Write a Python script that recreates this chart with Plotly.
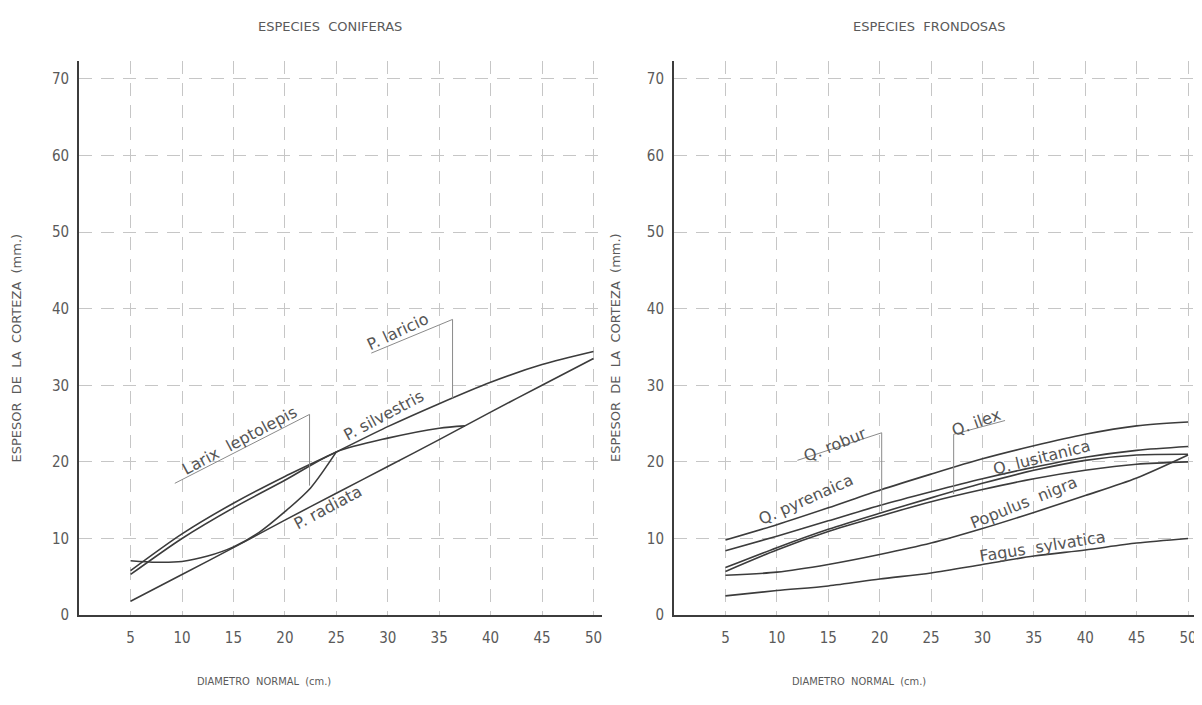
import plotly.graph_objects as go

# ---------------- data ----------------
diam = [5, 10, 15, 20, 25, 30, 35, 40, 45, 50]

# Coniferas
laricio = [5.8, 10.6, 14.6, 18.1, 21.3, 24.6, 27.6, 30.4, 32.7, 34.4]
silvestris_x = [5, 10, 15, 20, 25, 30, 35, 37.5]
silvestris = [5.3, 10.0, 14.0, 17.6, 21.3, 23.1, 24.4, 24.7]
larix_x = [5, 7.5, 10, 12.5, 15, 17.5, 20, 22.5, 25]
larix = [7.1, 6.9, 7.0, 7.7, 8.9, 10.8, 13.5, 16.6, 21.3]
radiata = [1.8, 5.3, 8.8, 12.4, 15.9, 19.4, 22.9, 26.5, 30.0, 33.5]

# Frondosas
q_ilex = [9.8, 11.8, 14.0, 16.3, 18.4, 20.4, 22.1, 23.6, 24.7, 25.2]
q_pyrenaica = [8.4, 10.3, 12.3, 14.3, 16.1, 17.8, 19.3, 20.6, 21.5, 22.0]
q_robur = [6.2, 8.8, 11.2, 13.3, 15.3, 17.2, 18.9, 20.2, 20.9, 21.0]
q_lusitanica = [5.7, 8.5, 10.9, 12.9, 14.8, 16.4, 17.8, 18.9, 19.7, 20.0]
populus = [5.2, 5.6, 6.6, 7.9, 9.4, 11.3, 13.4, 15.6, 17.9, 20.9]
fagus = [2.5, 3.2, 3.8, 4.7, 5.5, 6.6, 7.7, 8.5, 9.4, 10.0]

x_ticks = [5, 10, 15, 20, 25, 30, 35, 40, 45, 50]
y_ticks = [0, 10, 20, 30, 40, 50, 60, 70]

titles = ["ESPECIES  CONIFERAS", "ESPECIES  FRONDOSAS"]
y_title = "ESPESOR  DE  LA  CORTEZA  (mm.)"
x_title = "DIAMETRO  NORMAL  (cm.)"

# curve labels: text, x, y, angle
left_labels = [
    ("P. laricio", 31.0, 37.0, -25),
    ("Larix  leptolepis", 15.6, 22.8, -28),
    ("P. silvestris", 29.6, 26.0, -28),
    ("P. radiata", 24.2, 14.0, -28),
]
right_labels = [
    ("Q. robur", 15.7, 22.3, -22),
    ("Q. ilex", 29.4, 25.1, -20),
    ("Q. pyrenaica", 12.8, 15.1, -24),
    ("Q. lusitanica", 35.7, 20.6, -14),
    ("Populus  nigra", 34.0, 14.7, -22),
    ("Fagus  sylvatica", 35.8, 8.9, -9),
]
# leader lines (x0, y0, x1, y1) per panel
left_leaders = [
    (28.4, 34.2, 36.3, 38.6), (36.3, 38.6, 36.3, 28.3),
    (9.3, 17.2, 22.4, 26.2), (22.4, 26.2, 22.4, 16.9),
]
right_leaders = [
    (12.0, 20.2, 20.2, 23.8), (20.2, 23.8, 20.2, 13.6),
    (27.2, 23.6, 32.2, 25.4), (27.2, 23.6, 27.2, 15.8),
]

# ---------------- styling ----------------
FONT = "DejaVu Sans"
FONT_C = "DejaVu Sans Condensed, DejaVu Sans"
LINE = "#3c3c3c"
GRID = "#c6c6c6"
TXT = "#5a5a5a"

# the page has an 8px body margin: figure pixel = page pixel - 8
W, H = 1194, 697

fig = go.Figure()

def add_curve(x, y, xa, ya, name):
    fig.add_trace(go.Scatter(
        x=x, y=y, mode="lines", name=name, xaxis=xa, yaxis=ya,
        line=dict(color=LINE, width=1.6, shape="spline", smoothing=0.8),
        showlegend=False, hoverinfo="skip"))

add_curve(diam, laricio, "x", "y", "P. laricio")
add_curve(silvestris_x, silvestris, "x", "y", "P. silvestris")
add_curve(larix_x, larix, "x", "y", "Larix leptolepis")
add_curve(diam, radiata, "x", "y", "P. radiata")

add_curve(diam, q_ilex, "x2", "y2", "Q. ilex")
add_curve(diam, q_pyrenaica, "x2", "y2", "Q. pyrenaica")
add_curve(diam, q_robur, "x2", "y2", "Q. robur")
add_curve(diam, q_lusitanica, "x2", "y2", "Q. lusitanica")
add_curve(diam, populus, "x2", "y2", "Populus nigra")
add_curve(diam, fagus, "x2", "y2", "Fagus sylvatica")

y_dom = [(H - 615) / H, (H - 54) / H]

def xaxis(dom, rng, anchor):
    return dict(domain=dom, range=rng, anchor=anchor, tickvals=x_ticks,
                showline=True, linecolor=LINE, linewidth=2,
                showgrid=True, gridcolor=GRID, gridwidth=1, griddash="13px,9px",
                zeroline=False, ticks="", ticklabelstandoff=8,
                tickfont=dict(family=FONT_C, size=15, color=TXT))

def yaxis(rng, anchor):
    return dict(domain=y_dom, range=rng, anchor=anchor, tickvals=y_ticks,
                showline=True, linecolor=LINE, linewidth=2,
                showgrid=True, gridcolor=GRID, gridwidth=1, griddash="13px,9px",
                zeroline=False, ticks="", ticklabelstandoff=5,
                tickfont=dict(family=FONT_C, size=15, color=TXT))

fig.update_layout(
    width=W, height=H, margin=dict(l=0, r=0, t=0, b=0),
    paper_bgcolor="white", plot_bgcolor="white",
    xaxis=xaxis([71.2 / W, 594.0 / W], [0, 50.78], "y"),
    yaxis=yaxis([0, 72.3], "x"),
    xaxis2=xaxis([666.6 / W, 1.0], [0, 51.26], "y2"),
    yaxis2=yaxis([0, 72.3], "x2"),
    showlegend=False,
)

ann = []
# panel titles
for txt, xc in zip(titles, [322, 922]):
    ann.append(dict(text=txt, x=xc / W, y=(H - 19) / H, xref="paper", yref="paper",
                    xanchor="center", yanchor="middle", showarrow=False,
                    font=dict(family=FONT, size=13, color=TXT)))
# y titles
for xc in [9, 608]:
    ann.append(dict(text=y_title, x=xc / W, y=(H - 344) / H, xref="paper", yref="paper",
                    xanchor="center", yanchor="middle", textangle=-90, showarrow=False,
                    font=dict(family=FONT, size=13, color=TXT)))
# x titles
for xc in [256, 852]:
    ann.append(dict(text=x_title, x=xc / W, y=(H - 682) / H, xref="paper", yref="paper",
                    xanchor="center", yanchor="middle", showarrow=False,
                    font=dict(family=FONT_C, size=11, color=TXT)))
# curve labels
for (t, x, y, a) in left_labels:
    ann.append(dict(text=t, x=x, y=y, xref="x", yref="y", textangle=a, showarrow=False,
                    xanchor="center", yanchor="middle",
                    font=dict(family=FONT, size=16, color="#555555")))
for (t, x, y, a) in right_labels:
    ann.append(dict(text=t, x=x, y=y, xref="x2", yref="y2", textangle=a, showarrow=False,
                    xanchor="center", yanchor="middle",
                    font=dict(family=FONT, size=16, color="#555555")))
fig.update_layout(annotations=ann)

shapes = []
for (x0, y0, x1, y1) in left_leaders:
    shapes.append(dict(type="line", xref="x", yref="y", x0=x0, y0=y0, x1=x1, y1=y1,
                       line=dict(color="#8a8a8a", width=1)))
for (x0, y0, x1, y1) in right_leaders:
    shapes.append(dict(type="line", xref="x2", yref="y2", x0=x0, y0=y0, x1=x1, y1=y1,
                       line=dict(color="#8a8a8a", width=1)))
fig.update_layout(shapes=shapes)

fig.write_html("out.html")
